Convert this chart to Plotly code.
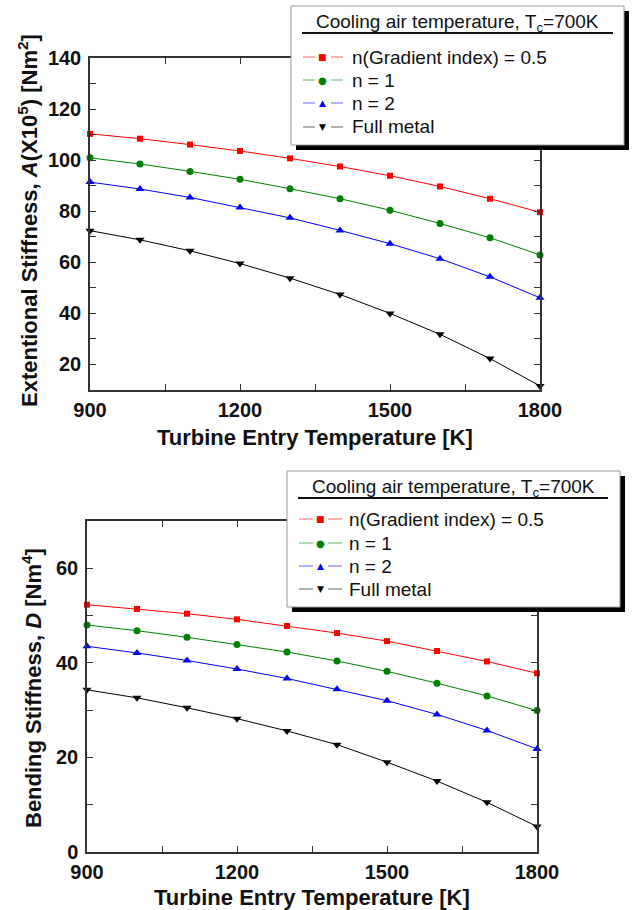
import plotly.graph_objects as go

W, H = 632, 910

temps = [900, 1000, 1100, 1200, 1300, 1400, 1500, 1600, 1700, 1800]

# Extentional stiffness A (x10^5 Nm^2)
A_n05 = [110.3, 108.4, 106.1, 103.6, 100.7, 97.5, 93.9, 89.7, 84.9, 79.6]
A_n1 = [100.9, 98.5, 95.6, 92.5, 88.8, 84.9, 80.4, 75.2, 69.6, 62.9]
A_n2 = [91.4, 88.7, 85.4, 81.5, 77.4, 72.5, 67.3, 61.4, 54.3, 46.1]
A_fm = [72.4, 68.8, 64.5, 59.5, 53.8, 47.4, 40.0, 31.8, 22.3, 11.6]

# Bending stiffness D (Nm^4)
D_n05 = [52.3, 51.4, 50.4, 49.2, 47.8, 46.3, 44.6, 42.5, 40.3, 37.8]
D_n1 = [48.0, 46.8, 45.4, 43.9, 42.3, 40.4, 38.2, 35.7, 33.0, 29.9]
D_n2 = [43.5, 42.1, 40.5, 38.7, 36.7, 34.4, 32.0, 29.1, 25.7, 21.8]
D_fm = [34.3, 32.6, 30.5, 28.2, 25.6, 22.7, 19.0, 15.0, 10.5, 5.4]

names = ["n(Gradient index) = 0.5", "n = 1", "n = 2", "Full metal"]
colors = ["#FF0000", "#008000", "#0000FF", "#000000"]
symbols = ["square", "circle", "triangle-up", "triangle-down"]
msizes = [6, 7, 8, 8]
glyphs = ["\u25A0", "\u25CF", "\u25B2", "\u25BC"]
glyph_sizes = [9, 10, 9, 9]
legend_title = "Cooling air temperature, T<sub>c</sub>=700K"

x_tickvals = [900, 1050, 1200, 1350, 1500, 1650, 1800]
x_ticktext = ["900", "", "1200", "", "1500", "", "1800"]
yA_tickvals = list(range(10, 150, 10))
yA_ticktext = [str(v) if v % 20 == 0 else "" for v in yA_tickvals]
yD_tickvals = list(range(0, 80, 10))
yD_ticktext = [str(v) if v % 20 == 0 else "" for v in yD_tickvals]

FONT = "Liberation Sans, Arial, sans-serif"


def fx(p):
    return p / W


def fy(p):
    return 1 - p / H


fig = go.Figure()

for i, ys in enumerate([A_n05, A_n1, A_n2, A_fm]):
    fig.add_trace(go.Scatter(x=temps, y=ys, mode="lines+markers", name=names[i],
                             line=dict(color=colors[i], width=1),
                             marker=dict(symbol=symbols[i], size=msizes[i], color=colors[i]),
                             xaxis="x", yaxis="y", showlegend=False, cliponaxis=False))
for i, ys in enumerate([D_n05, D_n1, D_n2, D_fm]):
    fig.add_trace(go.Scatter(x=temps, y=ys, mode="lines+markers", name=names[i],
                             line=dict(color=colors[i], width=1),
                             marker=dict(symbol=symbols[i], size=msizes[i], color=colors[i]),
                             xaxis="x2", yaxis="y2", showlegend=False, cliponaxis=False))

axis_common = dict(showline=True, linecolor="#333333", linewidth=1.5, mirror="allticks",
                   ticks="inside", ticklen=6, tickwidth=1.2, tickcolor="#333333",
                   showgrid=False, zeroline=False, automargin=False,
                   tickfont=dict(family=FONT, size=20, color="#111111", weight="bold"))

fig.update_layout(
    template="none",
    width=W, height=H, margin=dict(l=0, r=0, t=0, b=0, pad=0),
    paper_bgcolor="white", plot_bgcolor="white",
    font=dict(family=FONT),
    xaxis=dict(domain=[fx(90), fx(540)], range=[900, 1800], anchor="y",
               tickmode="array", tickvals=x_tickvals, ticktext=x_ticktext,
               ticklabelstandoff=1, **axis_common),
    yaxis=dict(domain=[fy(390), fy(58)], range=[10, 140], anchor="x",
               tickmode="array", tickvals=yA_tickvals, ticktext=yA_ticktext,
               ticklabelstandoff=3, **axis_common),
    xaxis2=dict(domain=[fx(87), fx(537)], range=[900, 1800], anchor="y2",
                tickmode="array", tickvals=x_tickvals, ticktext=x_ticktext,
                ticklabelstandoff=1, **axis_common),
    yaxis2=dict(domain=[fy(852), fy(521)], range=[0, 70], anchor="x2",
                tickmode="array", tickvals=yD_tickvals, ticktext=yD_ticktext,
                ticklabelstandoff=3, **axis_common),
)

annotations = []
shapes = []

# Axis titles
title_font = dict(family=FONT, size=22, color="#111111", weight="bold")
annotations.append(dict(text="Turbine Entry Temperature [K]", x=fx(315), y=fy(437),
                        xref="paper", yref="paper", showarrow=False, font=title_font,
                        xanchor="center", yanchor="middle"))
annotations.append(dict(text="Turbine Entry Temperature [K]", x=fx(312), y=fy(897),
                        xref="paper", yref="paper", showarrow=False, font=title_font,
                        xanchor="center", yanchor="middle"))
annotations.append(dict(text="Extentional Stiffness, <i>A</i>(X10<sup>5</sup>) [Nm<sup>2</sup>]",
                        x=fx(28), y=fy(221), xref="paper", yref="paper", showarrow=False,
                        font=title_font, textangle=-90, xanchor="center", yanchor="middle"))
annotations.append(dict(text="Bending Stiffness, <i>D</i> [Nm<sup>4</sup>]",
                        x=fx(32), y=fy(688), xref="paper", yref="paper", showarrow=False,
                        font=title_font, textangle=-90, xanchor="center", yanchor="middle"))


def draw_legend(box, title_yc, uline, rows, seg, text_x):
    x0, y0, x1, y1 = box
    off = 5
    shapes.append(dict(type="rect", xref="paper", yref="paper", layer="above",
                       x0=fx(x0 + off), x1=fx(x1 + off), y0=fy(y0 + off), y1=fy(y1 + off),
                       fillcolor="black", line=dict(width=0)))
    shapes.append(dict(type="rect", xref="paper", yref="paper", layer="above",
                       x0=fx(x0), x1=fx(x1), y0=fy(y0), y1=fy(y1),
                       fillcolor="white", line=dict(color="#999999", width=1)))
    ux0, ux1, uy = uline
    shapes.append(dict(type="line", xref="paper", yref="paper", layer="above",
                       x0=fx(ux0), x1=fx(ux1), y0=fy(uy), y1=fy(uy),
                       line=dict(color="#111111", width=2)))
    annotations.append(dict(text=legend_title, x=fx((ux0 + ux1) / 2), y=fy(title_yc),
                            xref="paper", yref="paper", showarrow=False,
                            font=dict(family=FONT, size=19, color="#111111"),
                            xanchor="center", yanchor="middle"))
    sl0, sl1, mx, sr0, sr1 = seg
    for i, ry in enumerate(rows):
        for a, b in [(sl0, sl1), (sr0, sr1)]:
            shapes.append(dict(type="line", xref="paper", yref="paper", layer="above",
                               x0=fx(a), x1=fx(b), y0=fy(ry), y1=fy(ry),
                               line=dict(color=colors[i], width=1), opacity=0.6))
        annotations.append(dict(text=glyphs[i], x=fx(mx), y=fy(ry), xref="paper", yref="paper",
                                showarrow=False, xanchor="center", yanchor="middle",
                                font=dict(family="DejaVu Sans", size=glyph_sizes[i], color=colors[i])))
        annotations.append(dict(text=names[i], x=fx(text_x), y=fy(ry), xref="paper", yref="paper",
                                showarrow=False, xanchor="left", yanchor="middle",
                                font=dict(family=FONT, size=19, color="#111111")))


draw_legend(box=(291, 6, 624, 145), title_yc=23, uline=(302, 613, 33),
            rows=[57, 80, 103, 127], seg=(303, 315, 323, 331, 343), text_x=350)
draw_legend(box=(287, 471, 620, 607), title_yc=488, uline=(298, 608, 498),
            rows=[519, 543, 566, 589], seg=(299, 313, 320, 328, 342), text_x=347)

fig.update_layout(annotations=annotations, shapes=shapes)

fig.write_html("out.html")
